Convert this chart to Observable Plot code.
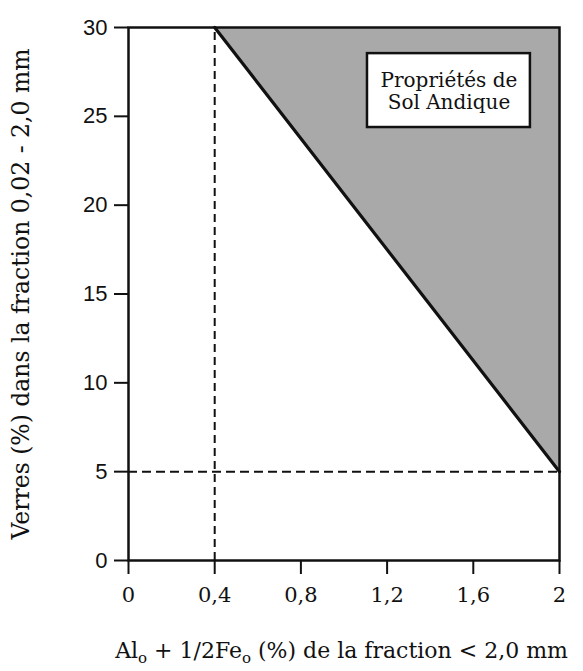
<!DOCTYPE html>
<html>
<head>
<meta charset="utf-8">
<script src="https://cdn.jsdelivr.net/npm/d3@7"></script>
<script src="https://cdn.jsdelivr.net/npm/@observablehq/plot@0.6"></script>
<style>
  html, body { margin: 0; padding: 0; background: #fff; }
  #chart { width: 583px; height: 620px; }
  #xlabel {
    width: 583px; box-sizing: border-box; padding-left: 100px;
    text-align: center; font-family: "DejaVu Serif", serif; font-size: 22px;
    color: #111; margin-top: 19px; line-height: 24px; white-space: nowrap;
  }
  #xlabel sub { font-size: 15px; vertical-align: -5px; line-height: 0; }
</style>
</head>
<body>
<div id="chart"></div>
<div id="xlabel">Al<sub>o</sub> + 1/2Fe<sub>o</sub> (%) de la fraction &lt; 2,0 mm</div>
<script>
// Axis ticks and labels
const xTicks = [0, 0.4, 0.8, 1.2, 1.6, 2];
const xTickLabels = ["0", "0,4", "0,8", "1,2", "1,6", "2"];
const yTicks = [0, 5, 10, 15, 20, 25, 30];
const yLabel = "Verres (%) dans la fraction 0,02 - 2,0 mm";

// Boundary of andic soil properties
const boundaryX = [0.4, 2];
const boundaryY = [30, 5];
// Threshold guides
const alFeThreshold = [0.4];
const glassThreshold = [5];
// Annotation
const regionLabel = "Propriétés de\nSol Andique";

const boundary = boundaryX.map((x, i) => ({x, y: boundaryY[i]}));
const serif = "DejaVu Serif, serif";

const plot = Plot.plot({
  width: 583,
  height: 620,
  marginLeft: 128,
  marginRight: 24,
  marginTop: 27,
  marginBottom: 60,
  style: {background: "#fff", color: "#111"},
  x: {domain: [0, 2]},
  y: {domain: [0, 30]},
  marks: [
    Plot.areaY(boundary, {x: "x", y1: "y", y2: 30, fill: "#a9a9a9"}),
    Plot.ruleX(alFeThreshold, {y1: 0, y2: 30, stroke: "#111", strokeWidth: 2, strokeDasharray: "8,5"}),
    Plot.ruleY(glassThreshold, {x1: 0, x2: 2, stroke: "#111", strokeWidth: 2, strokeDasharray: "9,5"}),
    Plot.line(boundary, {x: "x", y: "y", stroke: "#111", strokeWidth: 3.2}),
    Plot.rect([0], {x1: 1.109, x2: 1.865, y1: 24.37, y2: 28.53, fill: "#fff", stroke: "#111", strokeWidth: 2.5}),
    Plot.text([regionLabel], {x: 1.487, y: 26.45, text: d => d, fontSize: 20, fontFamily: serif, lineHeight: 1.12, fill: "#111"}),
    Plot.frame({stroke: "#111", strokeWidth: 2.5}),
    Plot.axisY(yTicks, {
      tickSize: 14, tickPadding: 7, strokeWidth: 2,
      fontSize: 22, fontFamily: "Liberation Sans, sans-serif",
      label: yLabel, labelAnchor: "center", labelArrow: "none", labelOffset: 116
    }),
    Plot.axisX(xTicks, {
      tickSize: 14, tickPadding: 13, strokeWidth: 2,
      fontSize: 21, fontFamily: serif,
      tickFormat: (d, i) => xTickLabels[i], label: null
    })
  ]
});

// style the y axis label
d3.select(plot).selectAll("[aria-label='y-axis label'] text")
  .style("font-family", serif).style("font-size", "23.5px");

document.getElementById("chart").appendChild(plot);
</script>
</body>
</html>
